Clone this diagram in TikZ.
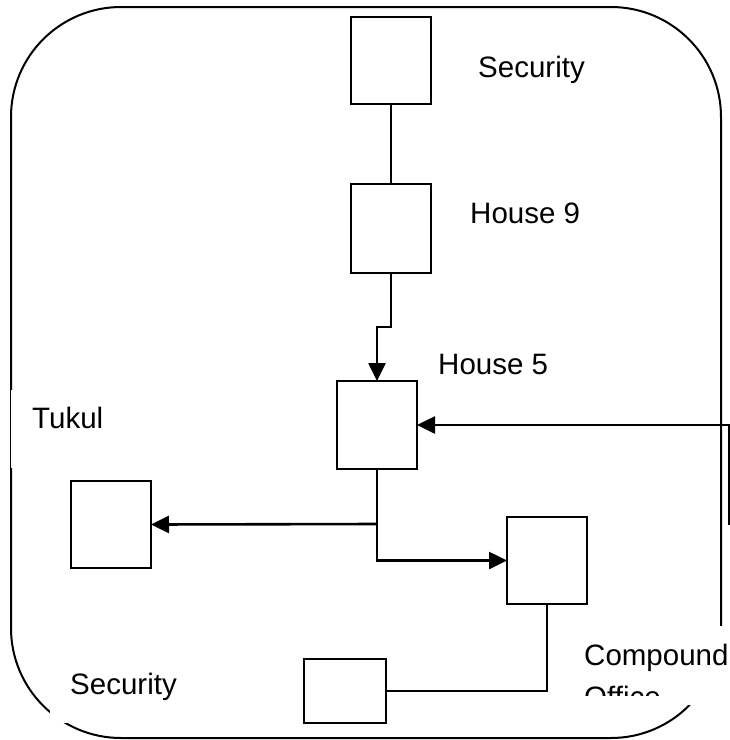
\documentclass[tikz,border=0pt]{standalone}
\usepackage{fontspec}
\setmainfont{Liberation Sans}
\usetikzlibrary{arrows.meta}
\begin{document}
\begin{tikzpicture}[x=1pt,y=-1pt,
  bldg/.style={draw, line width=2pt, minimum width=80pt, minimum height=87pt, inner sep=0pt, outer sep=0pt},
  lbl/.style={anchor=base west, inner sep=0pt, font=\fontsize{29.5}{29.5}\selectfont},
  link/.style={line width=1.6pt},
  arr/.style={line width=2.6pt, -{Triangle[length=18pt,width=17pt]}},
  plain/.style={line width=2.6pt},
  cover/.style={fill=white, draw=none}]
\useasboundingbox (0,0) rectangle (730,740);
% outer compound border
\draw[line width=2pt, rounded corners=110pt] (11,7) rectangle (721,738);
% white text boxes overlapping the border
\fill[cover] (11.3,390) rectangle (150,468);
\fill[cover] (50,655) rectangle (200,723);
\fill[cover] (575,626) rectangle (735,705);
% buildings
\node[bldg] (sec1) at (391,60.5) {};
\node[bldg, minimum height=89pt] (h9) at (391,228.5) {};
\node[bldg, minimum height=88pt] (h5) at (377,425) {};
\node[bldg] (tukul) at (111,524.5) {};
\node[bldg] (comp) at (547,560.5) {};
\node[bldg, minimum width=82pt, minimum height=64pt] (sec2) at (345,691) {};
% labels
\node[lbl] (tsec1) at (478,77) {Security};
\node[lbl] (th9) at (470,223) {House 9};
\node[lbl] (th5) at (438,374) {House 5};
\node[lbl] (ttuk) at (32,428) {Tukul};
\node[lbl] (tsec2) at (70,694) {Security};
\begin{scope}
\clip (575,626) rectangle (735,695.5);
\node[lbl] (tcomp) at (584,665) {Compound};
\node[lbl] (toff) at (584,707) {Office};
\end{scope}
% connectors
\coordinate (br) at (377,524);
\coordinate (rc) at (729,525);
\draw[link] (sec1.south) -- (h9.north);
\draw[arr] (h9.south) -- ++(0,54) -| (h5.north);
\draw[plain] (h5.south) -- (br);
\draw[arr] (br) -- (tukul.east);
\draw[arr] (br) |- (comp.west);
\draw[link] (comp.south) |- (sec2.east);
\draw[arr] (rc) |- (h5.east);
\end{tikzpicture}
\end{document}
